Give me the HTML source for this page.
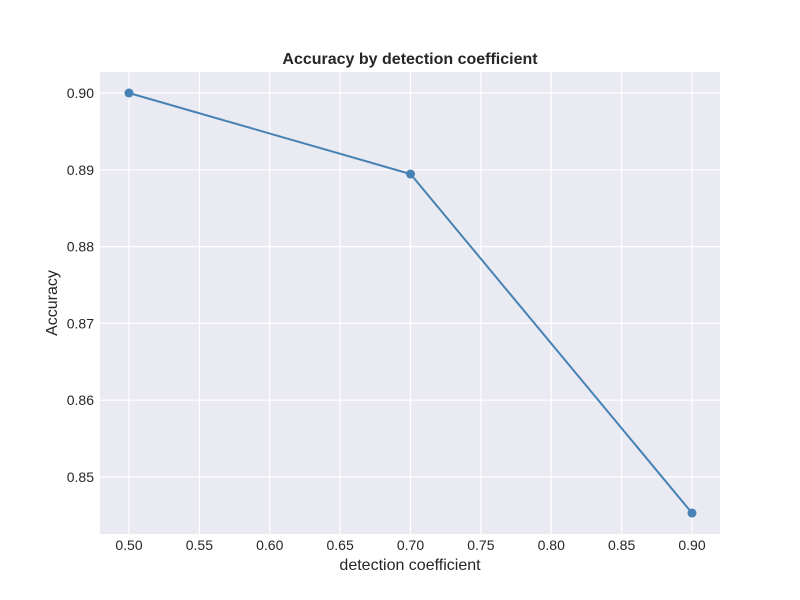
<!DOCTYPE html>
<html><head><meta charset="utf-8"><style>body{margin:0;background:#fff}svg{display:block;font-family:"Liberation Sans",sans-serif}</style></head>
<body>
<svg id="chart" width="800" height="600"></svg>
<script>
const categories=[0.5,0.7,0.9];
const accuracy=[0.9,0.88945,0.84531];
const xTicks=["0.50","0.55","0.60","0.65","0.70","0.75","0.80","0.85","0.90"];
const yTicks=["0.85","0.86","0.87","0.88","0.89","0.90"];
const NS="http://www.w3.org/2000/svg";
const svg=document.getElementById('chart');
const L=100,R=720,T=72,B=534;
const X=v=>129+(v-0.5)/0.4*563;
const Y=v=>93+(0.9-v)/0.05*384;
function mk(tag,attrs,text){const e=document.createElementNS(NS,tag);for(const k in attrs)e.setAttribute(k,attrs[k]);if(text!==undefined)e.textContent=text;svg.appendChild(e);return e;}
let e=mk('rect',{x:L,y:T,width:R-L,height:B-T,fill:'#eaeaf2'});


xTicks.forEach(t=>{const x=X(+t);
 let g=mk('line',{x1:x,x2:x,y1:T,y2:B,stroke:'#fff','stroke-width':1.2});
 
 
 let l=mk('text',{x:x,y:550,'text-anchor':'middle','font-size':14,fill:'#262626'},t);
 
 
});
yTicks.forEach(t=>{const y=Y(+t);
 let g=mk('line',{x1:L,x2:R,y1:y,y2:y,stroke:'#fff','stroke-width':1.2});
 
 
 let l=mk('text',{x:94,y:y+5,'text-anchor':'end','font-size':14,fill:'#262626'},t);
 
 
});
let pl=mk('polyline',{points:categories.map((c,i)=>X(c)+','+Y(accuracy[i])).join(' '),fill:'none',stroke:'#4682b4','stroke-width':2});


categories.forEach((c,i)=>{let p=mk('circle',{cx:X(c),cy:Y(accuracy[i]),r:4.5,fill:'#4682b4'});
 
 
});
let t=mk('text',{x:410,y:64,'text-anchor':'middle','font-size':16,'font-weight':'bold',fill:'#262626'},'Accuracy by detection coefficient');


let xt=mk('text',{x:410,y:570,'text-anchor':'middle','font-size':16,fill:'#262626'},'detection coefficient');


let yt=mk('text',{x:0,y:0,'text-anchor':'middle','font-size':16,fill:'#262626',transform:'translate(57,303) rotate(-90)'},'Accuracy');


</script>
</body></html>
